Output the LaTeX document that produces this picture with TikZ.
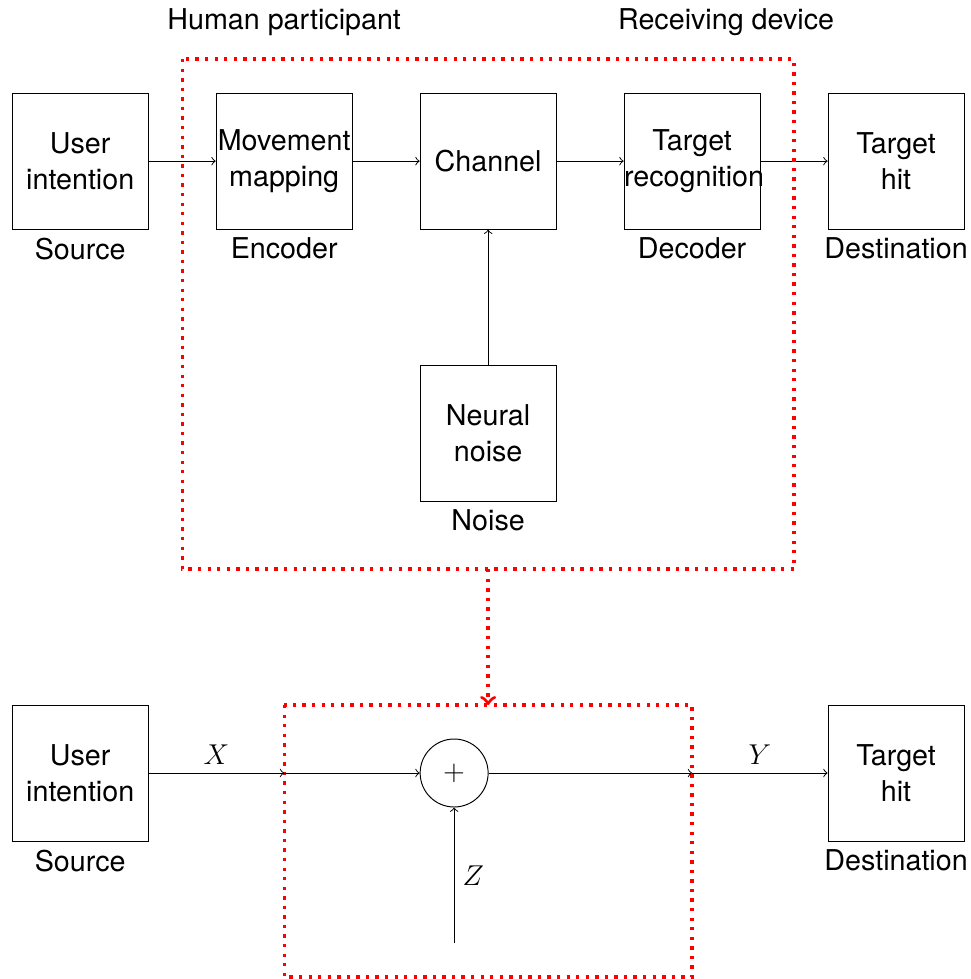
\documentclass[tikz,border=0pt]{standalone}
\usepackage{fontspec}
\setmainfont{TeX Gyre Heros}
\usetikzlibrary{positioning,arrows}

\tikzset{
	block/.style={draw, minimum size=2cm, text width=2cm, inner sep=0pt, align=center},
	redline/.style={red, line width=1.4pt, dash pattern=on 1.4pt off 2.6pt}
}

\begin{document}
\begin{tikzpicture}[font={\fontsize{12}{15}\selectfont}]
	\useasboundingbox (-7.18,2.37) rectangle (7.10,-12.03);

		% communication model
		\node[block, label=below:Source] (src) at (-6,0) {User\\intention};
		\node[block, label=below:Encoder] (enc) at (-3,0) {Movement\\mapping};
		\node[block] (chan) at (0,0) {Channel};
		\node[block, label=below:Decoder] (dec) at (3,0) {Target\\recognition};
		\node[block, label=below:Destination] (dst) at (6,0) {Target\\hit};
		\node[block, label=below:Noise] (noise) at (0,-4) {Neural\\noise};

		\node (hum) at (-3,2.05) {Human participant};
		\node (recv) at (3.5,2.05) {Receiving device};

		\draw[->] (src) -- (enc);
		\draw[->] (enc) -- (chan);
		\draw[->] (chan) -- (dec);
		\draw[->] (dec) -- (dst);
		\draw[->] (noise) -- (chan);

		\coordinate (sys top) at (0,-6);
		\coordinate (awgn top) at (0,-8);
		\draw[redline] (-4.5,1.5) rectangle (4.5,-6);
		\draw[redline] (-3,-8) rectangle (3,-12);
		\draw[redline, ->] (sys top) -- (awgn top);

		% additive noise channel
		\node[block, label=below:Source] (src2) at (-6,-9) {User\\intention};
		\node[block, label=below:Destination] (dst2) at (6,-9) {Target\\hit};
		\node[draw, circle, minimum size=1cm] (sum) at (-0.5,-9) {$+$};

		\coordinate (in) at (-3,-9);
		\coordinate (out) at (3,-9);
		\coordinate (zin) at (-0.5,-11.5);

		\draw[->] (src2) -- node[above] {$X$} (in);
		\draw[->] (in) -- (sum);
		\draw[->] (sum) -- (out);
		\draw[->] (out) -- node[above] {$Y$} (dst2);
		\draw[->] (zin) -- node[right] {$Z$} (sum);
	\end{tikzpicture}
\end{document}
